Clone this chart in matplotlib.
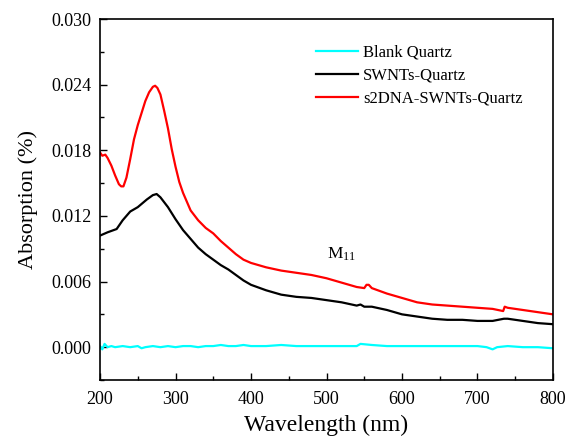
import matplotlib
matplotlib.use('Agg')
import matplotlib.pyplot as plt
from matplotlib.ticker import MultipleLocator, FormatStrFormatter

plt.rcParams['font.family'] = 'Liberation Serif'
plt.rcParams['mathtext.fontset'] = 'stix'

# wavelength (nm) / absorption
wl_red = [200, 203, 207, 210, 215, 220, 225, 228, 231, 235, 240, 245, 250, 255, 260,
          265, 270, 273, 276, 280, 285, 290, 295, 300, 305, 310, 320, 330, 340, 350,
          360, 370, 380, 390, 400, 420, 440, 460, 480, 500, 520, 540, 550, 553, 556,
          560, 580, 600, 620, 640, 660, 680, 700, 720, 734, 736, 740, 760, 780, 800]
abs_red = [0.0178, 0.0175, 0.0176, 0.0173, 0.0166, 0.0157, 0.0149, 0.0147, 0.0147, 0.0155,
           0.0172, 0.0190, 0.0203, 0.0214, 0.0225, 0.0233, 0.0238, 0.0239, 0.0237, 0.0231,
           0.0216, 0.0200, 0.0181, 0.0165, 0.0151, 0.0141, 0.0125, 0.0116, 0.0109, 0.0104,
           0.0097, 0.0091, 0.0085, 0.0080, 0.0077, 0.0073, 0.0070, 0.0068, 0.0066, 0.0063,
           0.0059, 0.0055, 0.0054, 0.0057, 0.0057, 0.0054, 0.0049, 0.0045, 0.0041, 0.0039,
           0.0038, 0.0037, 0.0036, 0.0035, 0.0033, 0.0037, 0.0036, 0.0034, 0.0032, 0.0030]

wl_black = [200, 210, 222, 230, 240, 250, 262, 270, 275, 280, 290, 300, 310, 320, 330,
            340, 350, 360, 370, 380, 390, 400, 420, 440, 460, 480, 500, 520, 540, 545,
            550, 560, 580, 600, 620, 640, 660, 680, 700, 720, 735, 740, 760, 780, 800]
abs_black = [0.0102, 0.0105, 0.0108, 0.0116, 0.0124, 0.0128, 0.0135, 0.0139, 0.0140, 0.0137,
             0.0128, 0.0117, 0.0107, 0.0099, 0.0091, 0.0085, 0.0080, 0.0075, 0.0071, 0.0066,
             0.0061, 0.0057, 0.0052, 0.0048, 0.0046, 0.0045, 0.0043, 0.0041, 0.0038, 0.0039,
             0.0037, 0.0037, 0.0034, 0.0030, 0.0028, 0.0026, 0.0025, 0.0025, 0.0024, 0.0024,
             0.0026, 0.0026, 0.0024, 0.0022, 0.0021]

wl_cyan = [200, 203, 206, 210, 215, 220, 230, 240, 250, 255, 260, 270, 280, 290, 300,
           310, 320, 330, 340, 350, 360, 370, 380, 390, 400, 420, 440, 460, 480, 500,
           520, 540, 545, 560, 580, 600, 620, 640, 660, 680, 700, 712, 720, 726, 740,
           760, 780, 800]
abs_cyan = [0.0001, -0.0002, 0.0003, 0.0000, 0.0001, 0.0000, 0.0001, 0.0000, 0.0001, -0.0001,
            0.0000, 0.0001, 0.0000, 0.0001, 0.0000, 0.0001, 0.0001, 0.0000, 0.0001, 0.0001,
            0.0002, 0.0001, 0.0001, 0.0002, 0.0001, 0.0001, 0.0002, 0.0001, 0.0001, 0.0001,
            0.0001, 0.0001, 0.0003, 0.0002, 0.0001, 0.0001, 0.0001, 0.0001, 0.0001, 0.0001,
            0.0001, 0.0000, -0.0002, 0.0000, 0.0001, 0.0000, 0.0000, -0.0001]

fig = plt.figure(figsize=(5.67, 4.40), dpi=100)
ax = fig.add_axes([0.1764, 0.1364, 0.7989, 0.8204])

ax.plot(wl_cyan, abs_cyan, color='#00ffff', lw=1.6, label='Blank Quartz')
ax.plot(wl_black, abs_black, color='black', lw=1.6, label='SWNTs-Quartz')
ax.plot(wl_red, abs_red, color='red', lw=1.6, label='s2DNA-SWNTs-Quartz')

ax.set_xlim(200, 800)
ax.set_ylim(-0.003, 0.030)
ax.xaxis.set_major_locator(MultipleLocator(100))
ax.xaxis.set_minor_locator(MultipleLocator(50))
ax.yaxis.set_major_locator(MultipleLocator(0.006))
ax.yaxis.set_minor_locator(MultipleLocator(0.003))
ax.yaxis.set_major_formatter(FormatStrFormatter('%.3f'))
ax.tick_params(which='both', direction='in', labelsize=13)
ax.tick_params(axis='y', pad=6)
ax.tick_params(axis='x', pad=8)
ax.tick_params(which='major', length=5, width=1)
ax.tick_params(which='minor', length=3, width=1)
for s in ax.spines.values():
    s.set_linewidth(1.2)

ax.set_xlabel('Wavelength (nm)', fontsize=17, labelpad=5)
ax.set_ylabel('Absorption (%)', fontsize=16, labelpad=10)

ax.text(500, 0.0081, r'M$_{\mathregular{11}}$', fontsize=12.5, ha='left', va='baseline')

ax.legend(loc='upper left', bbox_to_anchor=(0.477, 0.928), frameon=False,
          fontsize=12, handlelength=2.5, handletextpad=0.3, labelspacing=0.42,
          borderpad=0, borderaxespad=0)

fig.savefig('out.png', dpi=100)
